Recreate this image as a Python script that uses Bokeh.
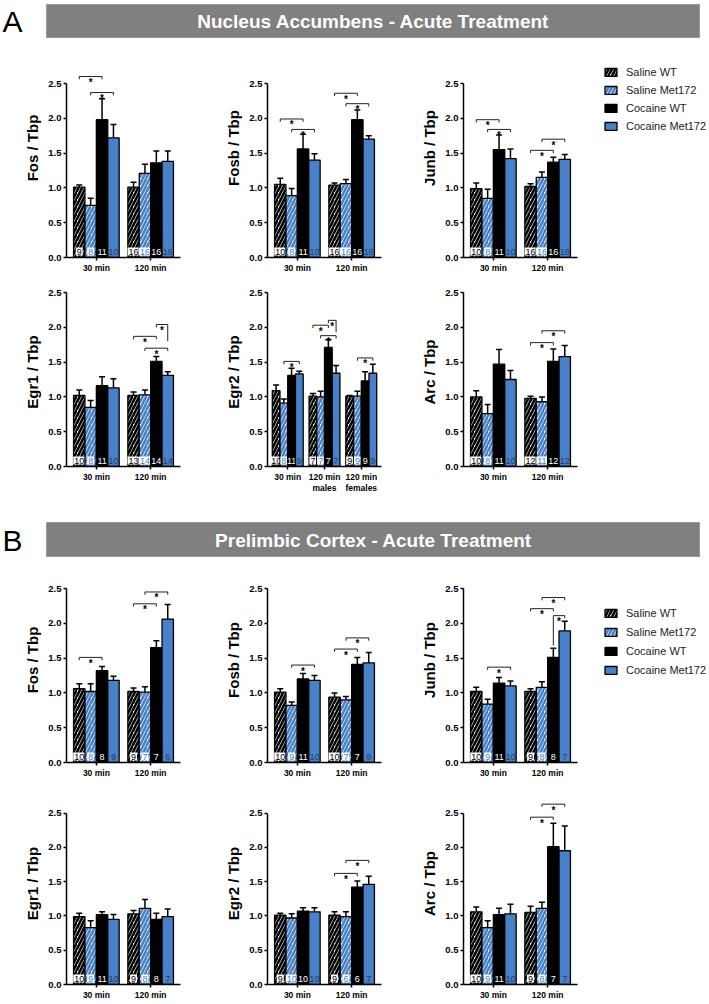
import numpy as np
from bokeh.plotting import figure
from bokeh.layouts import column, row
from bokeh.models import (ColumnDataSource, Whisker, TeeHead, FixedTicker, Legend, LegendItem,
                          Spacer, Range1d, PrintfTickFormatter)
from bokeh.core.properties import value
from bokeh.embed import file_html
from bokeh.resources import INLINE

# ---------------- data ----------------
SERIES = ["Saline WT", "Saline Met172", "Cocaine WT", "Cocaine Met172"]
GROUPS_2 = ["30 min", "120 min"]
GROUPS_3 = ["30 min", "120 min\nmales", "120 min\nfemales"]
Y_TICKS = [0.0, 0.5, 1.0, 1.5, 2.0, 2.5]
TITLE_A = "Nucleus Accumbens - Acute Treatment"
TITLE_B = "Prelimbic Cortex - Acute Treatment"

# brackets: (group, bar_a, bar_b, height[, leg_a, leg_b])
nac_fos_mean = [[1.01, 0.75, 1.98, 1.72], [1.01, 1.21, 1.36, 1.38]]
nac_fos_sem = [[0.03, 0.10, 0.30, 0.19], [0.07, 0.13, 0.17, 0.15]]
nac_fos_n = [[9, 8, 11, 10], [16, 16, 16, 16]]
nac_fos_br = [(0, 0, 2, 2.60), (0, 1, 3, 2.37)]

nac_fosb_mean = [[1.05, 0.89, 1.56, 1.40], [1.04, 1.06, 1.98, 1.70]]
nac_fosb_sem = [[0.09, 0.10, 0.21, 0.09], [0.03, 0.06, 0.14, 0.05]]
nac_fosb_n = [[10, 8, 11, 10], [16, 16, 16, 16]]
nac_fosb_br = [(0, 0, 2, 1.99), (0, 1, 3, 1.84), (1, 0, 2, 2.36), (1, 1, 3, 2.21)]

nac_junb_mean = [[0.99, 0.85, 1.55, 1.42], [1.02, 1.15, 1.37, 1.41]]
nac_junb_sem = [[0.08, 0.13, 0.21, 0.14], [0.04, 0.08, 0.07, 0.07]]
nac_junb_n = [[10, 8, 11, 10], [16, 16, 16, 16]]
nac_junb_br = [(0, 0, 2, 1.98), (0, 1, 3, 1.84), (1, 0, 2, 1.54), (1, 1, 3, 1.70)]

nac_egr1_mean = [[1.02, 0.85, 1.16, 1.13], [1.02, 1.03, 1.51, 1.31]]
nac_egr1_sem = [[0.08, 0.10, 0.13, 0.13], [0.05, 0.07, 0.07, 0.05]]
nac_egr1_n = [[10, 8, 11, 10], [13, 14, 14, 14]]
nac_egr1_br = [(1, 0, 2, 1.87), (1, 1, 3, 1.70), (1, 2, 3, 2.04, 0.04, 0.24)]

nac_egr2_mean = [[1.09, 0.91, 1.31, 1.33], [1.01, 1.00, 1.71, 1.34], [1.01, 1.01, 1.23, 1.34]]
nac_egr2_sem = [[0.08, 0.06, 0.10, 0.04], [0.04, 0.08, 0.11, 0.11], [0.01, 0.07, 0.13, 0.13]]
nac_egr2_n = [[10, 8, 11, 9], [7, 7, 7, 7], [9, 9, 9, 9]]
nac_egr2_br = [(0, 1, 3, 1.51), (1, 0, 2, 2.03), (1, 1, 3, 1.88), (1, 2, 3, 2.10, 0.04, 0.17),
               (2, 1, 3, 1.56)]

nac_arc_mean = [[1.00, 0.76, 1.47, 1.25], [0.98, 0.93, 1.51, 1.58]]
nac_arc_sem = [[0.09, 0.13, 0.21, 0.13], [0.03, 0.07, 0.18, 0.16]]
nac_arc_n = [[10, 8, 11, 10], [12, 11, 12, 12]]
nac_arc_br = [(1, 0, 2, 1.78), (1, 1, 3, 1.95)]

prl_fos_mean = [[1.06, 1.02, 1.32, 1.18], [1.02, 1.01, 1.65, 2.06]]
prl_fos_sem = [[0.07, 0.11, 0.06, 0.06], [0.05, 0.08, 0.10, 0.21]]
prl_fos_n = [[10, 8, 8, 9], [9, 7, 7, 6]]
prl_fos_br = [(0, 0, 2, 1.51), (1, 0, 2, 2.28), (1, 1, 3, 2.45)]

prl_fosb_mean = [[1.01, 0.82, 1.20, 1.18], [0.94, 0.90, 1.41, 1.43]]
prl_fosb_sem = [[0.05, 0.05, 0.08, 0.07], [0.06, 0.05, 0.10, 0.15]]
prl_fosb_n = [[10, 9, 11, 10], [10, 7, 7, 9]]
prl_fosb_br = [(0, 1, 3, 1.40), (1, 0, 2, 1.63), (1, 1, 3, 1.79)]

prl_junb_mean = [[1.02, 0.84, 1.14, 1.10], [1.02, 1.08, 1.51, 1.89]]
prl_junb_sem = [[0.06, 0.07, 0.08, 0.07], [0.04, 0.08, 0.13, 0.14]]
prl_junb_n = [[10, 9, 11, 10], [9, 8, 8, 7]]
prl_junb_br = [(0, 1, 3, 1.37), (1, 0, 2, 2.21), (1, 1, 3, 2.37), (1, 2, 3, 2.11, 0.43, 0.04)]

prl_egr1_mean = [[0.99, 0.83, 1.02, 0.95], [1.03, 1.11, 0.95, 0.99]]
prl_egr1_sem = [[0.05, 0.10, 0.04, 0.07], [0.05, 0.13, 0.09, 0.11]]
prl_egr1_n = [[10, 9, 11, 10], [9, 8, 8, 7]]
prl_egr1_br = []

prl_egr2_mean = [[1.01, 0.97, 1.07, 1.06], [1.01, 0.99, 1.42, 1.46]]
prl_egr2_sem = [[0.03, 0.06, 0.05, 0.06], [0.05, 0.07, 0.09, 0.12]]
prl_egr2_n = [[9, 10, 10, 10], [9, 6, 6, 7]]
prl_egr2_br = [(1, 0, 2, 1.62), (1, 1, 3, 1.81)]

prl_arc_mean = [[1.06, 0.83, 1.02, 1.03], [1.05, 1.11, 2.01, 1.95]]
prl_arc_sem = [[0.07, 0.10, 0.09, 0.14], [0.09, 0.09, 0.34, 0.36]]
prl_arc_n = [[10, 9, 11, 10], [9, 8, 7, 7]]
prl_arc_br = [(1, 0, 2, 2.44), (1, 1, 3, 2.63)]

# ---------------- style ----------------
FONT = "Liberation Sans"
BLUE = "#4a80c5"
NAVY = "#1f3d6b"
OFFSETS = [-0.315, -0.105, 0.105, 0.315]
BAR_W = 0.21
LEG = 0.04
PX_PER_UNIT = 69.6
FRAME_W = 114
BORDER_L = 66
COL_WIDTHS = [201, 196, 183]
LEGEND_W = 129

# hatched bars: white base with thick coloured diagonal hatch -> coloured bar with white stripes
BAR_STYLE = [
    dict(fill_color="white", hatch_pattern="/", hatch_color="black", hatch_weight=2.6, hatch_scale=7),
    dict(fill_color="white", hatch_pattern="/", hatch_color=BLUE, hatch_weight=2.6, hatch_scale=7),
    dict(fill_color="black"),
    dict(fill_color=BLUE),
]
N_TEXT = [
    dict(text_color="black", background_fill_color="white"),
    dict(text_color=BLUE, background_fill_color="white"),
    dict(text_color="white"),
    dict(text_color=NAVY),
]


def make_panel(ylabel, groups, means, sems, ns, brackets, top_px, bottom_px, col):
    ng = len(groups)
    height = top_px + 174 + bottom_px
    width = COL_WIDTHS[col]
    p = figure(width=width, height=height, output_backend="svg", toolbar_location=None,
               title=None,
               x_range=Range1d(0.45, ng + 0.55),
               y_range=Range1d(0, 2.5 + top_px / PX_PER_UNIT),
               min_border_left=BORDER_L, min_border_right=width - BORDER_L - FRAME_W,
               min_border_top=0, min_border_bottom=bottom_px)
    p.grid.visible = False
    p.outline_line_color = None
    p.background_fill_color = "white"

    for k in range(4):
        xs = [g + 1 + OFFSETS[k] for g in range(ng)]
        tops = [means[g][k] for g in range(ng)]
        errs = [means[g][k] + sems[g][k] for g in range(ng)]
        src = ColumnDataSource(dict(x=xs, top=tops, hi=errs,
                                    n=[str(ns[g][k]) for g in range(ng)],
                                    zero=[0.0] * ng))
        wh = Whisker(base="x", lower="top", upper="hi", source=src, line_width=1.5,
                     line_color="black", lower_head=None,
                     upper_head=TeeHead(size=6, line_width=1.5, line_color="black"),
                     level="underlay")
        p.add_layout(wh)
        p.vbar(x="x", top="top", bottom=0, width=BAR_W, source=src,
               line_color="black", line_width=1.3, **BAR_STYLE[k])
        p.text(x="x", y="zero", text="n", source=src, text_align="center",
               text_baseline="bottom", y_offset=-2, text_font=value(FONT),
               text_font_size="9px", padding=1, **N_TEXT[k])

    if brackets:
        bx, by, sx, sy = [], [], [], []
        for b in brackets:
            g, i, j, h = b[:4]
            la, lb = (b[4], b[5]) if len(b) > 4 else (LEG, LEG)
            x1 = g + 1 + OFFSETS[i]
            x2 = g + 1 + OFFSETS[j]
            bx.append([x1, x1, x2, x2])
            by.append([h - la, h, h, h - lb])
            sx.append((x1 + x2) / 2)
            sy.append(h)
        p.multi_line(bx, by, line_color="#222222", line_width=1)
        p.text(sx, sy, text=["*"] * len(sx), text_align="center", text_baseline="alphabetic",
               y_offset=6, text_font=value(FONT), text_font_style="bold",
               text_font_size="10px", text_color="black")

    ya = p.yaxis[0]
    ya.ticker = FixedTicker(ticks=Y_TICKS)
    ya.formatter = PrintfTickFormatter(format="%.1f")
    ya.bounds = (0, 2.5)
    ya.axis_label = ylabel
    ya.axis_label_text_font = FONT
    ya.axis_label_text_font_style = "bold"
    ya.axis_label_text_font_size = "15px"
    ya.axis_label_standoff = 4
    ya.major_label_text_font = FONT
    ya.major_label_text_font_style = "bold"
    ya.major_label_text_font_size = "9.5px"
    ya.major_label_standoff = 2
    ya.minor_tick_line_color = None

    xa = p.xaxis[0]
    xa.axis_label = None
    xa.ticker = FixedTicker(ticks=list(range(1, ng + 1)))
    xa.major_label_overrides = {g + 1: groups[g] for g in range(ng)}
    xa.major_label_text_font = FONT
    xa.major_label_text_font_style = "bold"
    xa.major_label_text_font_size = "8.5px"
    xa.major_label_text_line_height = 1.1
    xa.major_label_standoff = 2
    xa.minor_tick_line_color = None

    for ax in (xa, ya):
        ax.axis_line_width = 1.5
        ax.major_tick_line_width = 1.5
        ax.major_tick_in = 0
        ax.major_tick_out = 3
        ax.axis_line_color = "black"
        ax.major_tick_line_color = "black"
        ax.major_label_text_color = "black"
        ax.axis_label_text_color = "black"
    return p


def make_legend(top_px, bottom_px, legend_top, spacing):
    height = top_px + 174 + bottom_px
    p = figure(width=LEGEND_W, height=height, output_backend="svg", toolbar_location=None,
               title=None, x_range=Range1d(0, 1), y_range=Range1d(0, 1),
               x_axis_location=None, y_axis_location=None,
               min_border_left=0, min_border_right=0, min_border_top=0,
               min_border_bottom=bottom_px)
    p.grid.visible = False
    p.outline_line_color = None
    items = []
    for k, s in enumerate(SERIES):
        # legend key only: a single NaN bar that draws nothing in the plot itself
        r = p.vbar(x=np.array([np.nan]), top=np.array([np.nan]), width=0.1,
                   line_color="black", line_width=1.3, **BAR_STYLE[k])
        items.append(LegendItem(label=s, renderers=[r]))
    leg_h = len(items) * 18 + (len(items) - 1) * spacing
    vy = (top_px + 174) - (legend_top + leg_h)
    leg = Legend(items=items, location=(23, vy), margin=0, padding=0, spacing=spacing,
                 glyph_width=15, glyph_height=10, label_height=18, label_standoff=8,
                 label_text_font=FONT, label_text_font_size="11px", label_text_color="#222222",
                 border_line_color=None, background_fill_alpha=0)
    p.add_layout(leg)
    return p


def make_title(letter, text, height):
    lf = figure(width=46, height=height, output_backend="svg", toolbar_location=None, title=None,
                x_range=Range1d(0, 1), y_range=Range1d(0, 1),
                x_axis_location=None, y_axis_location=None, min_border=0)
    lf.grid.visible = False
    lf.outline_line_color = None
    lf.text([0.0], [0.5], text=[letter], text_align="left", text_baseline="middle", x_offset=2,
            text_font=value(FONT), text_font_size="30px", text_color="black")
    tf = figure(width=654, height=height, output_backend="svg", toolbar_location=None,
                title=None, x_range=Range1d(0, 1), y_range=Range1d(0, 1),
                x_axis_location=None, y_axis_location=None, min_border=0,
                background_fill_color="#808080")
    tf.grid.visible = False
    tf.outline_line_color = "#9a9a9a"
    tf.text([0.5], [0.5], text=[text], text_align="center", text_baseline="middle",
            text_font=value(FONT), text_font_style="bold", text_font_size="19px",
            text_color="white")
    return row(lf, tf)


# ---------------- layout ----------------
A1 = dict(top_px=45, bottom_px=20)
A2 = dict(top_px=15, bottom_px=32)
B1 = dict(top_px=31, bottom_px=20)
B2 = dict(top_px=31, bottom_px=15)

rowA1 = row(
    make_panel("Fos / Tbp", GROUPS_2, nac_fos_mean, nac_fos_sem, nac_fos_n, nac_fos_br, col=0, **A1),
    make_panel("Fosb / Tbp", GROUPS_2, nac_fosb_mean, nac_fosb_sem, nac_fosb_n, nac_fosb_br, col=1, **A1),
    make_panel("Junb / Tbp", GROUPS_2, nac_junb_mean, nac_junb_sem, nac_junb_n, nac_junb_br, col=2, **A1),
    make_legend(legend_top=25, spacing=0, **A1),
)
rowA2 = row(
    make_panel("Egr1 / Tbp", GROUPS_2, nac_egr1_mean, nac_egr1_sem, nac_egr1_n, nac_egr1_br, col=0, **A2),
    make_panel("Egr2 / Tbp", GROUPS_3, nac_egr2_mean, nac_egr2_sem, nac_egr2_n, nac_egr2_br, col=1, **A2),
    make_panel("Arc / Tbp", GROUPS_2, nac_arc_mean, nac_arc_sem, nac_arc_n, nac_arc_br, col=2, **A2),
)
rowB1 = row(
    make_panel("Fos / Tbp", GROUPS_2, prl_fos_mean, prl_fos_sem, prl_fos_n, prl_fos_br, col=0, **B1),
    make_panel("Fosb / Tbp", GROUPS_2, prl_fosb_mean, prl_fosb_sem, prl_fosb_n, prl_fosb_br, col=1, **B1),
    make_panel("Junb / Tbp", GROUPS_2, prl_junb_mean, prl_junb_sem, prl_junb_n, prl_junb_br, col=2, **B1),
    make_legend(legend_top=47, spacing=1, **B1),
)
rowB2 = row(
    make_panel("Egr1 / Tbp", GROUPS_2, prl_egr1_mean, prl_egr1_sem, prl_egr1_n, prl_egr1_br, col=0, **B2),
    make_panel("Egr2 / Tbp", GROUPS_2, prl_egr2_mean, prl_egr2_sem, prl_egr2_n, prl_egr2_br, col=1, **B2),
    make_panel("Arc / Tbp", GROUPS_2, prl_arc_mean, prl_arc_sem, prl_arc_n, prl_arc_br, col=2, **B2),
)

layout = column(
    Spacer(width=10, height=4),
    make_title("A", TITLE_A, 34),
    rowA1,
    rowA2,
    Spacer(width=10, height=24),
    make_title("B", TITLE_B, 35),
    rowB1,
    rowB2,
)

open("out.html", "w").write(file_html(layout, INLINE))
